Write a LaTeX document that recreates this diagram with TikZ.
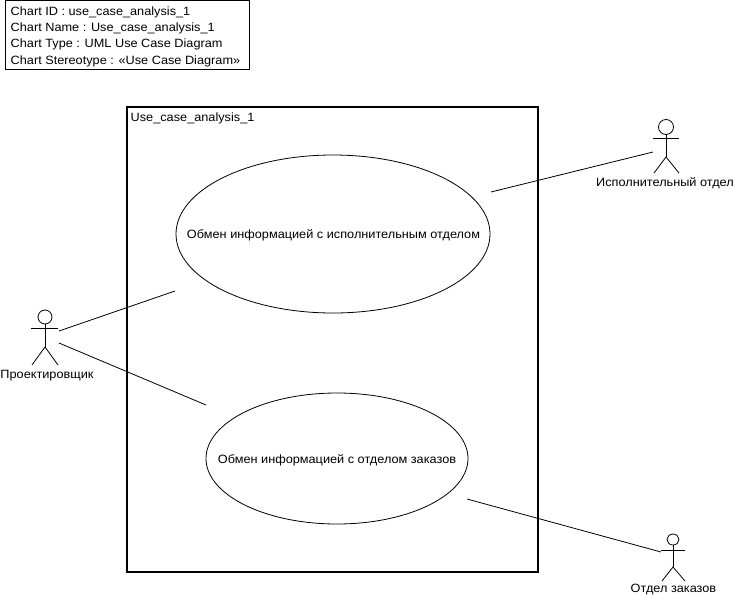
\documentclass[tikz,border=0pt]{standalone}
\usepackage{fontspec}
\setmainfont[FakeStretch=1.06]{Liberation Sans}
\usetikzlibrary{shapes.geometric}
\tikzset{
  every node/.style={font=\fontsize{12}{14}\selectfont, text=black},
  usecase/.style={draw=black, line width=0.8pt, ellipse, inner sep=0pt},
  conn/.style={draw=black, line width=0.8pt},
  stick/.style={draw=black, line width=0.8pt},
  headc/.style={draw=black, line width=0.8pt, ellipse, inner sep=0pt},
}
\begin{document}
\begin{tikzpicture}[x=1pt,y=-1pt]
\useasboundingbox (0,0) rectangle (734,595);
% info box
\node[draw=black, line width=0.8pt, minimum width=244pt, minimum height=69pt, inner sep=0pt] (info) at (127.5,34.5) {};
\foreach \yy/\tt in {15/{Chart ID : use\_case\_analysis\_1},31/{Chart Name : Use\_case\_analysis\_1},47/{Chart Type : UML Use Case Diagram},64/{Chart Stereotype : «Use Case Diagram»}}
  \node[inner sep=0pt, anchor=base west] at (10.5,\yy) {\tt};
% system boundary
\node[draw=black, line width=1.6pt, minimum width=411pt, minimum height=465pt, inner sep=0pt] (sys) at (332.5,339.5) {};
\node[inner sep=0pt, anchor=base west] (systitle) at (130.5,121) {Use\_case\_analysis\_1};
% use cases
\node[usecase, minimum width=314pt, minimum height=158pt] (uc1) at (333,234) {};
\node[inner sep=0pt, anchor=base] at (333.5,238.5) {Обмен информацией с исполнительным отделом};
\node[usecase, minimum width=262pt, minimum height=131pt] (uc2) at (337,458.5) {};
\node[inner sep=0pt, anchor=base] at (337,463.5) {Обмен информацией с отделом заказов};
% actor designer
\node[headc, minimum width=14pt, minimum height=14pt] (a1) at (45,317) {};
\coordinate (a1hip) at (45,347);
\draw[stick] (31,328) -- (58,328);
\draw[stick] (a1.south) -- (a1hip);
\draw[stick] (32,365) -- (a1hip) -- (58,365);
\node[inner sep=0pt, anchor=base] (a1t) at (47,378.5) {Проектировщик};
% actor exec
\node[headc, minimum width=15pt, minimum height=15pt] (a2) at (666,127) {};
\coordinate (a2hip) at (666,157);
\draw[stick] (653,138) -- (679,138);
\draw[stick] (a2.south) -- (a2hip);
\draw[stick] (654,173) -- (a2hip) -- (679,173);
\node[inner sep=0pt, anchor=base] (a2t) at (665,186.5) {Исполнительный отдел};
% actor orders
\node[headc, minimum width=12pt, minimum height=11pt] (a3) at (673,539.5) {};
\coordinate (a3hip) at (673,567);
\draw[stick] (661,550) -- (685,550);
\draw[stick] (a3.south) -- (a3hip);
\draw[stick] (662,581) -- (a3hip) -- (685,581);
\node[inner sep=0pt, anchor=base] (a3t) at (673.5,592.5) {Отдел заказов};
% connector ends
\coordinate (p1a) at (59,331);
\coordinate (p1b) at (175,291);
\coordinate (p2a) at (59,343);
\coordinate (p2b) at (206,405);
\coordinate (p3a) at (491,192);
\coordinate (p3b) at (653,152);
\coordinate (p4a) at (467,499);
\coordinate (p4b) at (661,552);
\draw[conn] (p1a) -- (p1b);
\draw[conn] (p2a) -- (p2b);
\draw[conn] (p3a) -- (p3b);
\draw[conn] (p4a) -- (p4b);
\end{tikzpicture}
\end{document}
